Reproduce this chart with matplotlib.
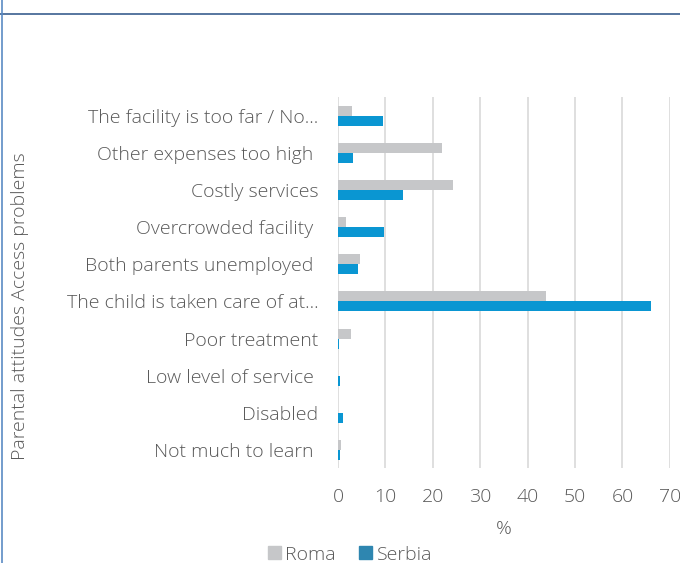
import matplotlib
matplotlib.use("Agg")
import matplotlib.pyplot as plt
import numpy as np
from matplotlib.patches import Patch
from matplotlib.lines import Line2D

categories = [
    "The facility is too far / No...",
    "Other expenses too high ",
    "Costly services",
    "Overcrowded facility ",
    "Both parents unemployed ",
    "The child is taken care of at...",
    "Poor treatment",
    "Low level of service ",
    "Disabled",
    "Not much to learn ",
]
roma = [2.9, 21.9, 24.2, 1.6, 4.6, 43.9, 2.7, 0.1, 0.05, 0.6]
serbia = [9.6, 3.1, 13.8, 9.7, 4.2, 66.0, 0.3, 0.4, 1.0, 0.5]
x_ticks = [0, 10, 20, 30, 40, 50, 60, 70]

plt.rcParams['font.family'] = ['Open Sans', 'DejaVu Sans']
plt.rcParams['font.weight'] = 'light'
text_color = '#595959'
roma_color = '#C6C7C9'
serbia_color = '#0A96D2'
fs = 14

fig = plt.figure(figsize=(6.8, 5.63), dpi=100)
ax = fig.add_axes([0.497, 0.168, 0.488, 0.659])

n = len(categories)
y = np.arange(n)
h = 0.27
ax.barh(y - h / 2, roma, height=h, color=roma_color, zorder=3)
ax.barh(y + h / 2, serbia, height=h, color=serbia_color, zorder=3)

ax.set_ylim(n - 0.5, -0.5)
ax.set_xlim(0, 70)
ax.set_yticks(y)
ax.set_yticklabels(categories, fontsize=fs, color=text_color, fontweight='light')
ax.set_xticks(x_ticks)
ax.set_xticklabels([str(t) for t in x_ticks], fontsize=fs, color=text_color, fontweight='light')
ax.tick_params(axis='both', length=0)
ax.tick_params(axis='y', pad=14)
ax.tick_params(axis='x', pad=14)
for s in ax.spines.values():
    s.set_visible(False)
ax.grid(axis='x', color='#D9D9D9', linewidth=1.2, zorder=0)
ax.set_xlabel('%', fontsize=fs, color=text_color, labelpad=10, fontweight='light')
ax.set_ylabel('Parental attitudes Access problems', fontsize=fs, color=text_color, fontweight='light')
ax.yaxis.set_label_coords(-0.93, 0.438)

handles = [Patch(color=roma_color, label='Roma'), Patch(color='#2E86B0', label='Serbia')]
fig.legend(handles=handles, loc='center', bbox_to_anchor=(0.515, 0.015), ncol=2,
           frameon=False, prop={'size': fs, 'weight': 'light'}, handlelength=0.65, handleheight=0.65,
           handletextpad=0.25, columnspacing=1.2, labelcolor=text_color)

fig.add_artist(Line2D([0, 1], [1 - 13.5 / 563, 1 - 13.5 / 563], color='#3A5F8F', linewidth=1.2, transform=fig.transFigure))
fig.add_artist(Line2D([1.5 / 680, 1.5 / 680], [0, 1], color='#5B8BC4', linewidth=1.2, transform=fig.transFigure))

fig.savefig('out.png', dpi=100)
